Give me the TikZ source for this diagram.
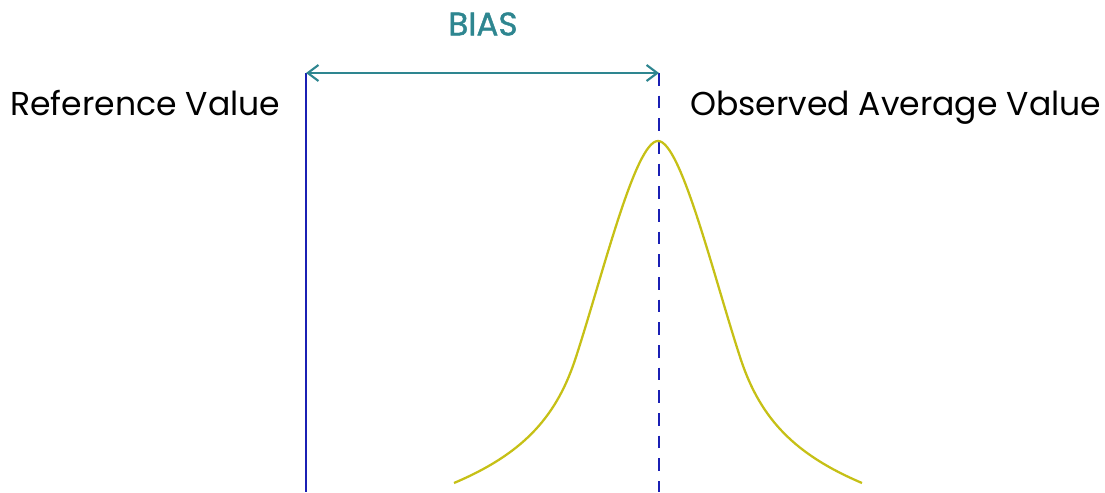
\documentclass[tikz,border=0pt]{standalone}
\usepackage{fontspec}
\setmainfont{Poppins}
\newfontfamily\biasfont{Poppins}[FakeBold=1.2]
\usetikzlibrary{arrows.meta}
\definecolor{biasteal}{RGB}{46,134,144}
\definecolor{refblue}{RGB}{27,32,180}
\definecolor{curvey}{RGB}{198,192,22}
\tikzset{
  lbl/.style={inner sep=0pt, anchor=base west, font=\fontsize{24.8}{28}\selectfont},
  biasarrow/.style={draw=biasteal, line width=1.6pt, {Straight Barb[length=8pt,width=12pt,line width=1.6pt]}-{Straight Barb[length=8pt,width=12pt,line width=1.6pt]}},
  refline/.style={draw=refblue, line width=1.6pt},
  obsline/.style={draw=refblue, line width=1.6pt, dash pattern=on 9.5pt off 7.5pt},
  bell/.style={draw=curvey, line width=1.7pt}
}
\begin{document}
\begin{tikzpicture}[x=0.75pt,y=-0.75pt]
\useasboundingbox (0,0) rectangle (1105,492);
% key points
\coordinate (refTop) at (306,73);
\coordinate (refBot) at (306,492);
\coordinate (obsTop) at (659,73);
\coordinate (obsBot) at (659,492);
% texts
\node[inner sep=0pt, font=\biasfont\fontsize{24.5}{28}\selectfont, text=biasteal] (bias) at (483,24) {BIAS};
\node[lbl] (refv) at (10,115) {Reference Value};
\node[lbl] (obsv) at (690,115) {Observed Average Value};
% lines
\draw[refline] (refTop) -- (refBot);
\draw[obsline] (obsTop) -- (obsBot);
\draw[biasarrow] (refTop) -- (obsTop);
% bell curve
\draw[bell] (454,483) .. controls (520,455) and (555,420) .. (575,360)
  .. controls (602,278) and (635,141) .. (658,141)
  .. controls (681,141) and (714,278) .. (741,360)
  .. controls (761,420) and (796,455) .. (862,483);
\end{tikzpicture}
\end{document}
